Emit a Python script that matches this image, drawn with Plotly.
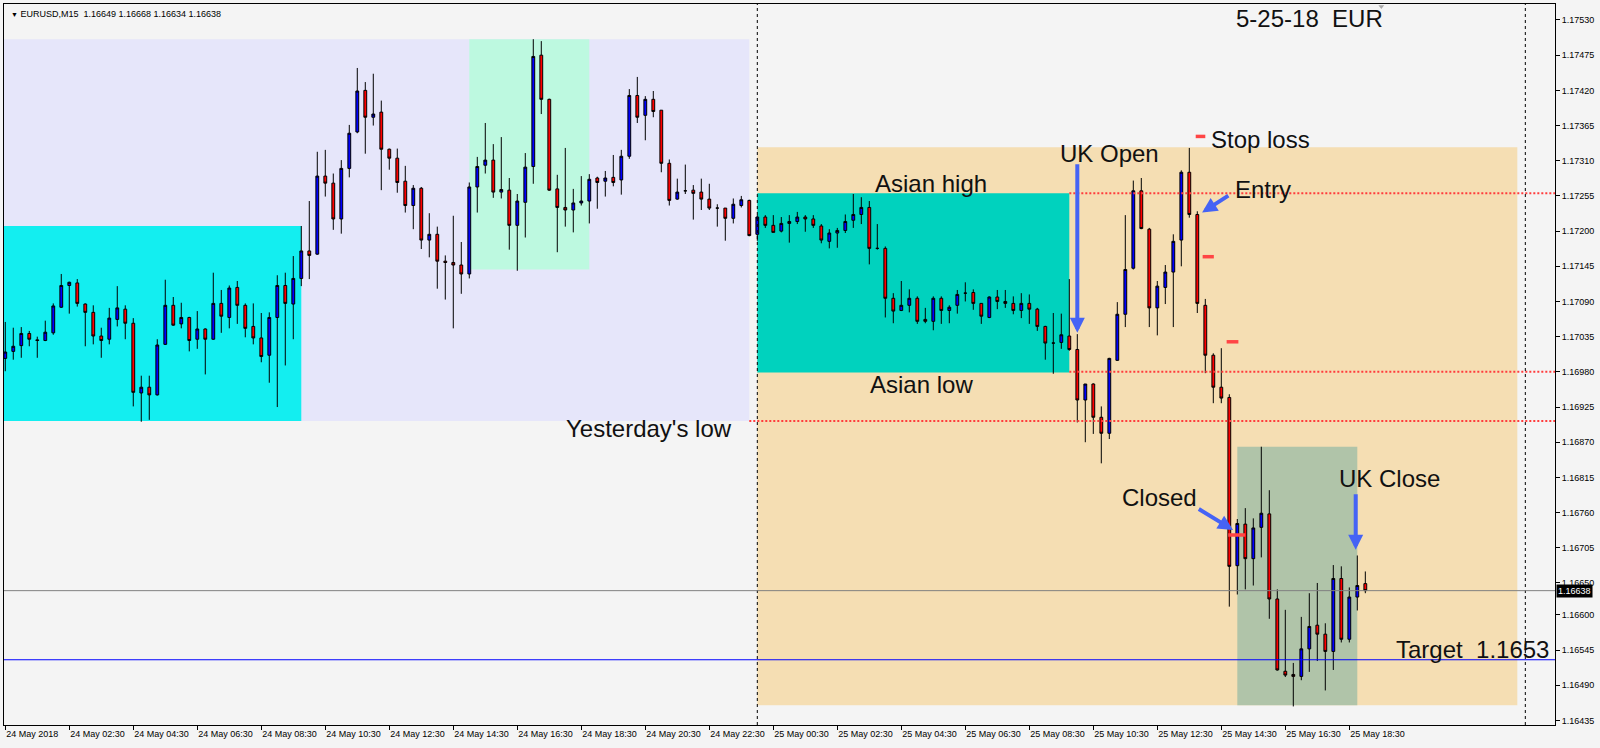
import pandas as pd
import plotly.graph_objects as go

# ---------------- data ----------------
header_text = "EURUSD,M15  1.16649 1.16668 1.16634 1.16638"
first_bar = "2018-05-24 00:30"

opens = [1.17001,1.17012,1.17021,1.17040,1.17030,1.17029,1.17041,1.17081,1.17115,1.17119,
         1.17086,1.17073,1.17036,1.17031,1.17062,1.17078,1.17056,1.16947,1.16956,1.16944,
         1.17023,1.17084,1.17055,1.17065,1.17031,1.17047,1.17031,1.17087,1.17065,1.17112,
         1.17084,1.17051,1.17033,1.17006,1.17065,1.17115,1.17086,
         1.17126,1.17169,1.17164,1.17286,1.17275,1.17219,1.17298,1.17355,1.17420,1.17378,
         1.17386,1.17328,1.17314,1.17278,1.17240,1.17267,1.17186,1.17195,1.17153,1.17151,
         1.17147,1.17133,1.17269,1.17303,1.17311,1.17261,1.17264,1.17209,1.17245,1.17301,
         1.17475,1.17406,1.17266,1.17237,1.17233,1.17244,1.17247,1.17283,1.17278,1.17284,
         1.17280,1.17317,1.17412,1.17381,1.17406,1.17389,1.17306,1.17250,1.17263,1.17264,
         1.17261,1.17250,1.17236,1.17236,1.17220,1.17240,1.17248,
         1.17195,1.17222,1.17209,1.17200,1.17212,1.17215,1.17222,1.17219,1.17208,1.17184,
         1.17197,1.17201,1.17217,1.17226,1.17237,1.17173,1.17173,1.17095,1.17076,1.17084,
         1.17095,1.17062,1.17059,1.17095,1.17076,1.17084,1.17103,1.17104,1.17087,1.17065,
         1.17097,1.17090,1.17087,1.17076,1.17087,1.17078,1.17051,1.17025,1.17026,1.17036,
         1.17015,1.16936,1.16961,1.16909,1.16884,1.16998,1.17070,1.17142,1.17263,1.17203,
         1.17080,1.17112,1.17136,1.17186,1.17292,1.17226,1.17084,1.17006,1.16956,1.16940,
         1.16677,1.16742,1.16688,1.16737,1.16758,1.16625,1.16512,1.16507,1.16504,1.16547,
         1.16584,1.16570,1.16543,1.16657,1.16562,1.16628,1.16649]

highs = [1.17058,1.17049,1.17050,1.17044,1.17035,1.17060,1.17087,1.17133,1.17121,1.17125,
         1.17087,1.17084,1.17049,1.17080,1.17114,1.17084,1.17064,1.16974,1.16974,1.17031,
         1.17124,1.17097,1.17088,1.17066,1.17075,1.17048,1.17135,1.17108,1.17115,1.17122,
         1.17087,1.17087,1.17072,1.17073,1.17131,1.17135,1.17161,
         1.17208,1.17247,1.17324,1.17327,1.17290,1.17311,1.17366,1.17455,1.17433,1.17446,
         1.17404,1.17329,1.17329,1.17302,1.17272,1.17269,1.17228,1.17207,1.17162,1.17224,
         1.17183,1.17276,1.17316,1.17369,1.17336,1.17347,1.17283,1.17258,1.17322,1.17500,
         1.17497,1.17407,1.17288,1.17330,1.17266,1.17286,1.17289,1.17285,1.17294,1.17319,
         1.17327,1.17422,1.17441,1.17411,1.17419,1.17389,1.17312,1.17282,1.17304,1.17272,
         1.17282,1.17274,1.17242,1.17236,1.17251,1.17255,1.17249,
         1.17225,1.17225,1.17225,1.17222,1.17225,1.17230,1.17225,1.17225,1.17211,1.17203,
         1.17205,1.17226,1.17258,1.17253,1.17247,1.17211,1.17176,1.17103,1.17122,1.17109,
         1.17098,1.17080,1.17098,1.17098,1.17084,1.17108,1.17120,1.17109,1.17087,1.17098,
         1.17108,1.17108,1.17098,1.17103,1.17101,1.17080,1.17052,1.17072,1.17071,1.17125,
         1.17039,1.16961,1.16962,1.16926,1.17002,1.17089,1.17225,1.17279,1.17283,1.17205,
         1.17122,1.17147,1.17195,1.17295,1.17330,1.17231,1.17094,1.17009,1.17017,1.16945,
         1.16750,1.16767,1.16751,1.16863,1.16795,1.16640,1.16608,1.16525,1.16597,1.16634,
         1.16650,1.16587,1.16678,1.16676,1.16643,1.16693,1.16668]

lows = [1.16981,1.16999,1.17002,1.17020,1.17002,1.17028,1.17038,1.17080,1.17071,1.17082,
        1.17020,1.17023,1.17002,1.17023,1.17051,1.17031,1.16926,1.16902,1.16905,1.16943,
        1.17022,1.17052,1.17048,1.17012,1.17016,1.16976,1.17030,1.17041,1.17048,1.17055,
        1.17034,1.17023,1.16995,1.16963,1.16925,1.16990,1.17031,
        1.17114,1.17125,1.17163,1.17254,1.17202,1.17196,1.17284,1.17353,1.17321,1.17365,
        1.17264,1.17296,1.17260,1.17229,1.17203,1.17172,1.17159,1.17110,1.17093,1.17048,
        1.17102,1.17126,1.17229,1.17290,1.17252,1.17251,1.17171,1.17138,1.17190,1.17274,
        1.17383,1.17263,1.17167,1.17207,1.17198,1.17240,1.17212,1.17235,1.17254,1.17270,
        1.17257,1.17313,1.17369,1.17342,1.17378,1.17292,1.17240,1.17249,1.17258,1.17218,
        1.17233,1.17233,1.17207,1.17185,1.17212,1.17237,1.17192,
        1.17185,1.17205,1.17198,1.17198,1.17182,1.17211,1.17199,1.17205,1.17181,1.17173,
        1.17174,1.17197,1.17205,1.17211,1.17148,1.17171,1.17065,1.17056,1.17075,1.17073,
        1.17055,1.17056,1.17045,1.17055,1.17056,1.17071,1.17090,1.17077,1.17055,1.17064,
        1.17078,1.17080,1.17070,1.17064,1.17055,1.17044,1.16999,1.16977,1.17016,1.17013,
        1.16901,1.16870,1.16883,1.16837,1.16875,1.16997,1.17050,1.17140,1.17203,1.17050,
        1.17037,1.17086,1.17050,1.17145,1.17221,1.17072,1.16978,1.16931,1.16931,1.16613,
        1.16632,1.16640,1.16646,1.16690,1.16594,1.16513,1.16503,1.16457,1.16498,1.16511,
        1.16528,1.16482,1.16514,1.16557,1.16557,1.16607,1.16634]

closes = [1.17011,1.17020,1.17040,1.17031,1.17029,1.17042,1.17083,1.17115,1.17120,1.17087,
          1.17073,1.17036,1.17029,1.17064,1.17080,1.17056,1.16948,1.16956,1.16944,1.17022,
          1.17084,1.17053,1.17065,1.17029,1.17047,1.17031,1.17087,1.17067,1.17111,1.17084,
          1.17048,1.17033,1.17004,1.17065,1.17115,1.17087,1.17126,
          1.17169,1.17162,1.17286,1.17275,1.17219,1.17298,1.17353,1.17419,1.17378,1.17383,
          1.17328,1.17314,1.17276,1.17240,1.17267,1.17186,1.17195,1.17153,1.17151,1.17147,
          1.17133,1.17269,1.17301,1.17311,1.17261,1.17265,1.17209,1.17247,1.17300,1.17473,
          1.17406,1.17264,1.17237,1.17233,1.17244,1.17247,1.17281,1.17276,1.17283,1.17276,
          1.17317,1.17412,1.17378,1.17406,1.17387,1.17306,1.17248,1.17261,1.17263,1.17259,
          1.17250,1.17236,1.17236,1.17220,1.17242,1.17249,1.17193,
          1.17222,1.17209,1.17198,1.17212,1.17215,1.17222,1.17219,1.17209,1.17186,1.17197,
          1.17201,1.17215,1.17226,1.17237,1.17173,1.17173,1.17095,1.17075,1.17084,1.17095,
          1.17059,1.17059,1.17095,1.17076,1.17081,1.17101,1.17103,1.17087,1.17067,1.17097,
          1.17090,1.17087,1.17076,1.17087,1.17078,1.17051,1.17025,1.17025,1.17038,1.17015,
          1.16936,1.16961,1.16909,1.16884,1.17001,1.17070,1.17140,1.17263,1.17204,1.17080,
          1.17114,1.17136,1.17184,1.17292,1.17226,1.17087,1.17006,1.16956,1.16939,1.16676,
          1.16743,1.16688,1.16736,1.16759,1.16625,1.16514,1.16506,1.16504,1.16547,1.16582,
          1.16570,1.16543,1.16657,1.16562,1.16628,1.16646,1.16638]

times = pd.date_range(first_bar, periods=len(opens), freq="15min")

x_tick_times = ["2018-05-24 00:30", "2018-05-24 02:30", "2018-05-24 04:30", "2018-05-24 06:30",
                "2018-05-24 08:30", "2018-05-24 10:30", "2018-05-24 12:30", "2018-05-24 14:30",
                "2018-05-24 16:30", "2018-05-24 18:30", "2018-05-24 20:30", "2018-05-24 22:30",
                "2018-05-25 00:30", "2018-05-25 02:30", "2018-05-25 04:30", "2018-05-25 06:30",
                "2018-05-25 08:30", "2018-05-25 10:30", "2018-05-25 12:30", "2018-05-25 14:30",
                "2018-05-25 16:30", "2018-05-25 18:30"]
x_tick_labels = ["24 May 2018", "24 May 02:30", "24 May 04:30", "24 May 06:30", "24 May 08:30",
                 "24 May 10:30", "24 May 12:30", "24 May 14:30", "24 May 16:30", "24 May 18:30",
                 "24 May 20:30", "24 May 22:30", "25 May 00:30", "25 May 02:30", "25 May 04:30",
                 "25 May 06:30", "25 May 08:30", "25 May 10:30", "25 May 12:30", "25 May 14:30",
                 "25 May 16:30", "25 May 18:30"]

y_tick_vals = [1.16435, 1.16490, 1.16545, 1.16600, 1.16650, 1.16705, 1.16760, 1.16815, 1.16870,
               1.16925, 1.16980, 1.17035, 1.17090, 1.17145, 1.17200, 1.17255, 1.17310, 1.17365,
               1.17420, 1.17475, 1.17530]
y_tick_labels = ["%.5f" % v for v in y_tick_vals]

bid_price = 1.16638
target_price = 1.16530

# session boxes: start, end, low, high, colour
boxes = [
    ("2018-05-24 00:00", "2018-05-24 23:45", 1.16903, 1.17500, "#E6E6FA"),  # yesterday range
    ("2018-05-24 00:00", "2018-05-24 09:45", 1.16903, 1.17208, "#13EEF0"),  # yesterday Asia
    ("2018-05-24 15:00", "2018-05-24 18:45", 1.17140, 1.17500, "#BDF9E0"),  # yesterday UK
    ("2018-05-25 00:00", "2018-05-25 23:45", 1.16459, 1.17331, "#F5DEB3"),  # today range
    ("2018-05-25 00:00", "2018-05-25 09:45", 1.16979, 1.17259, "#00D2BE"),  # Asian range
    ("2018-05-25 15:00", "2018-05-25 18:45", 1.16459, 1.16863, "#B0C4A9"),  # UK session
]

# dotted level lines: start time, price
levels = [("2018-05-25 09:45", 1.17259),
          ("2018-05-25 09:45", 1.16980),
          ("2018-05-24 23:45", 1.16903)]

day_separators = ["2018-05-25 00:00", "2018-05-26 00:00"]

# short red trade marks: start, end, price
marks = [("2018-05-25 13:42", "2018-05-25 14:00", 1.17348),
         ("2018-05-25 13:55", "2018-05-25 14:16", 1.17160),
         ("2018-05-25 14:40", "2018-05-25 15:02", 1.17027),
         ("2018-05-25 14:43", "2018-05-25 15:15", 1.16725)]

# arrows: head time, head price, tail time, tail price
arrows = [("2018-05-25 10:00", 1.17041, "2018-05-25 10:00", 1.17307),
          ("2018-05-25 13:54", 1.17229, "2018-05-25 14:46", 1.17257),
          ("2018-05-25 14:52", 1.16733, "2018-05-25 13:45", 1.16767),
          ("2018-05-25 18:42", 1.16702, "2018-05-25 18:42", 1.16791)]

# text notes: text, left time, price, anchor
notes = [("5-25-18\u00a0 EUR", "2018-05-25 14:54", 1.17533, "left"),
         ("Asian high", "2018-05-25 03:37", 1.17274, "left"),
         ("Asian low", "2018-05-25 03:28", 1.16960, "left"),
         ("Yesterday's low", "2018-05-24 17:57", 1.16891, "left"),
         ("UK Open", "2018-05-25 09:24", 1.17322, "left"),
         ("Stop loss", "2018-05-25 14:07", 1.17343, "left"),
         ("Entry", "2018-05-25 14:52", 1.17265, "left"),
         ("Closed", "2018-05-25 11:20", 1.16783, "left"),
         ("UK Close", "2018-05-25 18:07", 1.16813, "left"),
         ("Target\u00a0 1.1653", "2018-05-26 00:48", 1.16546, "right")]

# small object anchor next to the date label
anchor_mark_time = ["2018-05-25 19:30"]
anchor_mark_price = [1.17551]

# ---------------- figure ----------------
W, H = 1600, 748
L, R, T, B = 4, 45, 4, 23
BG = "#F4F4F4"
FONT = "Liberation Sans, Arial, sans-serif"

fig = go.Figure()
fig.add_trace(go.Candlestick(
    x=times, open=opens, high=highs, low=lows, close=closes,
    increasing=dict(line=dict(color="black", width=1), fillcolor="#0000FF"),
    decreasing=dict(line=dict(color="black", width=1), fillcolor="#FF0000"),
    whiskerwidth=0, hoverinfo="skip", showlegend=False))
fig.add_trace(go.Scatter(
    x=anchor_mark_time, y=anchor_mark_price, mode="markers", cliponaxis=False,
    marker=dict(symbol="triangle-down", size=5, color="#A8A8A8"),
    hoverinfo="skip", showlegend=False))

shapes = []
for x0, x1, y0, y1, col in boxes:
    shapes.append(dict(type="rect", xref="x", yref="y", x0=x0, x1=x1, y0=y0, y1=y1,
                       fillcolor=col, line=dict(width=0), layer="below"))
for x0, y in levels:
    shapes.append(dict(type="line", xref="x", yref="y", x0=x0, x1="2018-05-26 02:00", y0=y, y1=y,
                       line=dict(color="#FF3C3C", width=2, dash="2px,2px"), layer="above"))
for xs in day_separators:
    shapes.append(dict(type="line", xref="x", yref="paper", x0=xs, x1=xs, y0=0, y1=1,
                       line=dict(color="black", width=1, dash="3px,3px"), layer="above"))
shapes.append(dict(type="line", xref="paper", yref="y", x0=0, x1=1, y0=bid_price, y1=bid_price,
                   line=dict(color="#808080", width=1), layer="above"))
shapes.append(dict(type="line", xref="paper", yref="y", x0=0, x1=1, y0=target_price, y1=target_price,
                   line=dict(color="#0000FF", width=1), layer="above"))
for x0, x1, y in marks:
    shapes.append(dict(type="line", xref="x", yref="y", x0=x0, x1=x1, y0=y, y1=y,
                       line=dict(color="#FF4545", width=3.5), layer="above"))

annotations = []
for hx, hy, tx, ty in arrows:
    annotations.append(dict(x=hx, y=hy, ax=tx, ay=ty, xref="x", yref="y", axref="x", ayref="y",
                            text="", showarrow=True, arrowhead=2, arrowsize=0.75, arrowwidth=4,
                            arrowcolor="#4563F5", standoff=0))
for txt, xt, yp, anc in notes:
    annotations.append(dict(x=xt, y=yp, xref="x", yref="y", text=txt, showarrow=False,
                            xanchor=anc, yanchor="middle",
                            font=dict(family=FONT, size=24, color="#111111")))
annotations.append(dict(x=(9 - L) / (W - L - R), y=(H - B - 14) / (H - T - B), xref="paper", yref="paper",
                        text="<span style='font-size:7px'>\u25bc</span> " + header_text.replace("  ", "\u00a0 "),
                        showarrow=False, xanchor="left", yanchor="middle",
                        font=dict(family=FONT, size=9, color="black")))
annotations.append(dict(x=1, y=bid_price, xref="paper", yref="y", text="%.5f" % bid_price,
                        showarrow=False, xanchor="left", yanchor="middle", xshift=1,
                        bgcolor="black", borderpad=1,
                        font=dict(family=FONT, size=9, color="white")))

day0 = pd.Timestamp("2018-05-25 00:00")
x_lo = day0 + pd.Timedelta(minutes=15 * -94.16)
x_hi = day0 + pd.Timedelta(minutes=15 * 99.71)

fig.update_layout(
    width=W, height=H, margin=dict(l=L, r=R, t=T, b=B),
    paper_bgcolor=BG, plot_bgcolor=BG, showlegend=False, boxgap=0.5,
    shapes=shapes, annotations=annotations, hovermode=False,
    xaxis=dict(type="date", range=[x_lo, x_hi], rangeslider=dict(visible=False),
               tickvals=x_tick_times, ticktext=x_tick_labels, ticklabelposition="outside right",
               ticks="outside", ticklen=4, tickcolor="black", showgrid=False, zeroline=False,
               showline=True, linecolor="black", linewidth=1, mirror=True,
               tickfont=dict(family=FONT, size=9, color="black")),
    yaxis=dict(side="right", range=[1.16428, 1.17555], tickvals=y_tick_vals, ticktext=y_tick_labels,
               ticks="outside", ticklen=4, tickcolor="black", showgrid=False, zeroline=False,
               showline=True, linecolor="black", linewidth=1, mirror=True,
               tickfont=dict(family=FONT, size=9, color="black")),
)

fig.write_html("out.html", config={"displayModeBar": False},
               post_script="document.body.style.margin='0';document.body.style.overflow='hidden';")
